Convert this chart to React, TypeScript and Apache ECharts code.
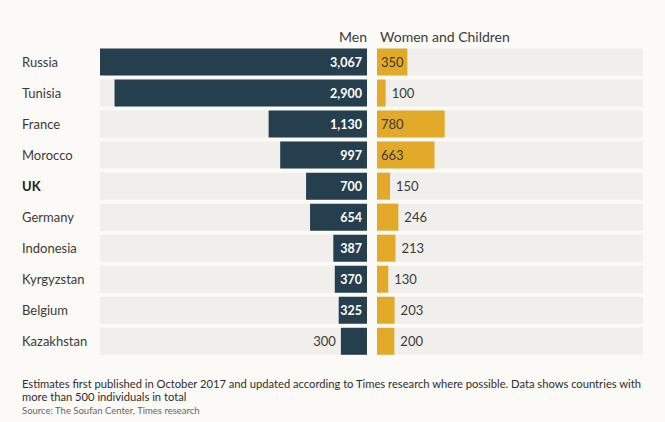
import { useEffect, useRef } from "react";
import * as echarts from "echarts";

const countries = [
    "Russia",
    "Tunisia",
    "France",
    "Morocco",
    "UK",
    "Germany",
    "Indonesia",
    "Kyrgyzstan",
    "Belgium",
    "Kazakhstan",
];
const men = [3067, 2900, 1130, 997, 700, 654, 387, 370, 325, 300];
const womenChildren = [350, 100, 780, 663, 150, 246, 213, 130, 203, 200];
const axisMax = 3067;

const FONT = "Lato";
const DARK = "#253f4f";
const GOLD = "#e2aa28";
const TRACK = "#f0efeb";
const TEXT = "#3a3a3a";

const fmt = (v: number) => v.toLocaleString("en-US");

export default function App() {
    const chartRef = useRef<HTMLDivElement>(null);

    useEffect(() => {
        if (!chartRef.current) return;
        const chart = echarts.init(chartRef.current, null, { renderer: "svg" });

        const option = {
            animation: false,
            backgroundColor: "#fbfaf6",
            textStyle: { fontFamily: FONT },
            grid: [
                { left: 100, width: 267, top: 46.5, height: 310.3 },
                { left: 377, width: 266, top: 46.5, height: 310.3 },
            ],
            xAxis: [
                { type: "value", gridIndex: 0, min: 0, max: axisMax, inverse: true, show: false },
                { type: "value", gridIndex: 1, min: 0, max: axisMax, show: false },
            ],
            yAxis: [
                {
                    type: "category",
                    gridIndex: 0,
                    data: countries,
                    inverse: true,
                    axisLine: { show: false },
                    axisTick: { show: false },
                    axisLabel: {
                        align: "left",
                        margin: 78,
                        fontFamily: FONT,
                        fontSize: 13,
                        color: TEXT,
                        formatter: (v: string) => (v === "UK" ? `{b|${v}}` : v),
                        rich: {
                            b: { fontFamily: FONT, fontSize: 13, fontWeight: "bold", color: "#1e1e1e" },
                        },
                    },
                },
                {
                    type: "category",
                    gridIndex: 1,
                    data: countries,
                    inverse: true,
                    show: false,
                },
            ],
            series: [
                {
                    name: "Men",
                    type: "bar",
                    xAxisIndex: 0,
                    yAxisIndex: 0,
                    barWidth: 27,
                    showBackground: true,
                    backgroundStyle: { color: TRACK },
                    itemStyle: { color: DARK },
                    data: men.map((v) => ({
                        value: v,
                        label:
                            v >= 320
                                ? {
                                      show: true,
                                      position: "insideRight",
                                      distance: 5,
                                      color: "#ffffff",
                                      fontWeight: "bold",
                                      fontSize: 12.5,
                                  }
                                : {
                                      show: true,
                                      position: "left",
                                      distance: 5,
                                      color: TEXT,
                                  },
                    })),
                    label: {
                        fontFamily: FONT,
                        fontSize: 13,
                        formatter: (p: any) => fmt(p.value),
                    },
                },
                {
                    name: "Women and Children",
                    type: "bar",
                    xAxisIndex: 1,
                    yAxisIndex: 1,
                    barWidth: 27,
                    showBackground: true,
                    backgroundStyle: { color: TRACK },
                    itemStyle: { color: GOLD },
                    data: womenChildren.map((v) => ({
                        value: v,
                        label:
                            v >= 300
                                ? { show: true, position: "insideLeft", distance: 4 }
                                : { show: true, position: "right", distance: 6 },
                    })),
                    label: {
                        fontFamily: FONT,
                        fontSize: 13,
                        color: TEXT,
                        formatter: (p: any) => fmt(p.value),
                    },
                },
            ],
            graphic: [
                {
                    type: "text",
                    x: 367,
                    y: 36,
                    style: {
                        text: "Men",
                        align: "right",
                        verticalAlign: "middle",
                        fontFamily: FONT,
                        fontSize: 14,
                        fill: TEXT,
                    },
                },
                {
                    type: "text",
                    x: 380,
                    y: 36,
                    style: {
                        text: "Women and Children",
                        align: "left",
                        verticalAlign: "middle",
                        fontFamily: FONT,
                        fontSize: 14,
                        fill: TEXT,
                    },
                },
                {
                    type: "text",
                    x: 22,
                    y: 377,
                    style: {
                        text:
                            "Estimates first published in October 2017 and updated according to Times research where possible. Data shows countries with\nmore than 500 individuals in total",
                        fontFamily: FONT,
                        fontSize: 11.2,
                        lineHeight: 13,
                        fill: "#2e2e2e",
                    },
                },
                {
                    type: "text",
                    x: 22,
                    y: 405,
                    style: {
                        text: "Source: The Soufan Center, Times research",
                        fontFamily: FONT,
                        fontSize: 9.5,
                        fill: "#666666",
                    },
                },
            ],
        };

        chart.setOption(option);
        return () => {
            chart.dispose();
        };
    }, []);

    return (
        <div
            ref={chartRef}
            style={{ position: "fixed", left: 0, top: 0, width: 665, height: 422 }}
        />
    );
}
